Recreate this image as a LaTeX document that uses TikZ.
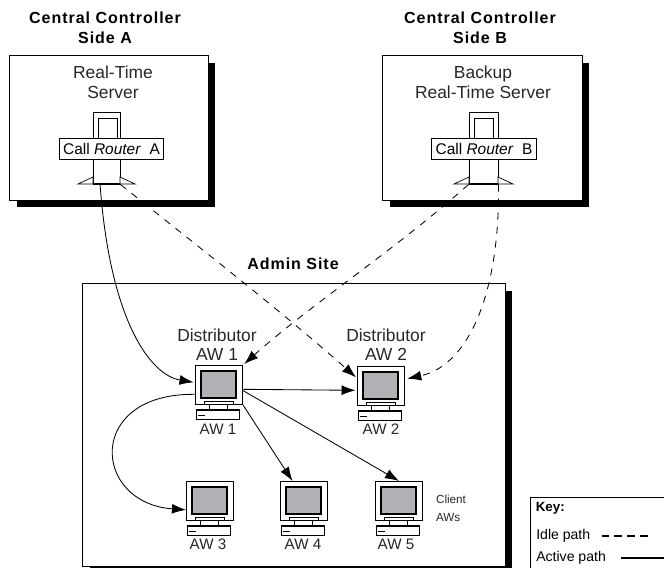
\documentclass[tikz,border=0pt]{standalone}
\usepackage{fontspec}
\setmainfont{Liberation Sans}
\newfontfamily\titlefont[LetterSpace=6]{Liberation Sans}
\usetikzlibrary{shadows, arrows.meta}
\definecolor{ScreenGray}{RGB}{178,178,182}
\definecolor{TextGray}{RGB}{40,40,40}
\tikzset{
    >={Latex[length=10pt,width=7pt]},
    shadowbox/.style={draw,fill=white,inner sep=0pt,line width=0.7pt,drop shadow={shadow xshift=5pt,shadow yshift=-5pt,opacity=1,fill=black}},
    tower/.style={draw,fill=white,inner sep=0pt,line width=0.7pt,minimum height=1.8cm},
    routerlabel/.style={draw,fill=white,inner sep=0pt,line width=0.7pt,minimum width=2.62cm,minimum height=0.525cm,font=\fontsize{11}{13}\selectfont},
    sitetitle/.style={align=center,font=\titlefont\bfseries\fontsize{11.4}{14.2}\selectfont},
    servername/.style={align=center,text=TextGray,font=\fontsize{12.4}{14.2}\selectfont},
    distname/.style={align=center,text=TextGray,font=\fontsize{12.4}{13.5}\selectfont},
    awname/.style={text=TextGray,font=\fontsize{10.8}{13}\selectfont},
    keytext/.style={anchor=west,inner sep=0pt,font=\fontsize{10}{12}\selectfont},
    idle/.style={dashed,dash pattern=on 5pt off 5pt,line width=0.6pt},
    active/.style={line width=0.6pt},
    monitor/.style={draw,fill=white,anchor=north west,inner sep=0pt,line width=0.8pt,minimum width=1.175cm,minimum height=0.975cm}
}
\begin{document}
\begin{tikzpicture}[x=0.025cm,y=-0.025cm]
        \useasboundingbox (0,0) rectangle (664,567);

        \node[shadowbox,minimum width=4.95cm,minimum height=3.6cm] (servera) at (109,128) {};
        \node[shadowbox,minimum width=4.975cm,minimum height=3.6cm] (serverb) at (482.5,128) {};
        \node[shadowbox,minimum width=10.55cm,minimum height=7.05cm] (adminbox) at (294,425) {};

        \node[sitetitle] (titlea) at (105,28) {Central Controller\\Side A};
        \node[sitetitle] (titleb) at (480,28) {Central Controller\\Side B};
        \node[sitetitle] (titleadmin) at (293,264) {Admin Site};
        \node[servername] (namea) at (113,82) {Real-Time\\Server};
        \node[servername] (nameb) at (483,82) {Backup\\Real-Time Server};

        \foreach \s/\left/\right/\inleft/\inright/\lab/\labx in {a/93/120/98/117/A/111.5,b/469/498/474/493/B/484}
        {
            \node[tower,minimum width=(\right-\left)*0.025cm] (tower\s) at ({(\left+\right)/2},148) {};
            \draw[line width=0.7pt] (\inleft,138) -- (\inleft,118) -- (\inright,118) -- (\inright,138);
            \draw[fill=white,line width=0.5pt] (\left,177) -- (\left-15,184) -- (\left,184) -- cycle;
            \draw[fill=white,line width=0.5pt] (\right,177) -- (\right+15,184) -- (\right,184) -- cycle;
            \draw[line width=1.4pt] (\left,184) -- (\right,184);
            \node[routerlabel] (router\s) at (\labx,148.5) {Call \textit{Router}\ \ \lab};
        }

        \foreach \pcname/\pcx/\pcy in {awone/195/365,awtwo/357/366,awthree/186/481,awfour/280/481,awfive/375/481}
        {
            \begin{scope}[shift={(\pcx,\pcy)}]
                \node[monitor] (\pcname) at (0,0) {};
                \draw[fill=ScreenGray,line width=0.9pt] (6,6) rectangle (41,33);
                \draw[fill=white,line width=0.6pt] (9,36) rectangle (38,39);
                \draw[fill=white,line width=0.6pt] (14,39) rectangle (32,44);
                \draw[fill=white,line width=0.6pt] (1,44.5) rectangle (44,54);
                \draw[line width=1.1pt] (1,45) -- (44,45);
                \draw[line width=1.1pt] (3,50.5) -- (10,50.5);
            \end{scope}
        }

        \node[distname] (distone) at (217,344.5) {Distributor\\AW 1};
        \node[distname] (disttwo) at (386,344.5) {Distributor\\AW 2};
        \node[awname] (labone) at (218,429) {AW 1};
        \node[awname] (labtwo) at (381,429) {AW 2};
        \node[awname] (labthree) at (208,544) {AW 3};
        \node[awname] (labfour) at (303,544) {AW 4};
        \node[awname] (labfive) at (396,544) {AW 5};
        \node[align=left,text=TextGray,font=\fontsize{8.3}{12.8}\selectfont] (clientaws) at (451,508) {Client\\AWs};

        \draw[->,active,shorten >=1pt] (towera.260) .. controls (110,320) and (150,375) .. (awone.174);
        \draw[->,idle,shorten >=1pt] (towera.south east) .. controls (190,240) and (280,310) .. (awtwo.162);
        \draw[->,idle,shorten >=1pt] (towerb.south west) .. controls (395,250) and (310,305) .. (awone.north east);
        \draw[->,idle,shorten >=1.5pt] (towerb.south east) .. controls (500,290) and (470,365) .. (awtwo.16);
        \draw[->,active,shorten >=1pt] (awone.-10) -- (awtwo.190);
        \draw[->,active] (awone.south east) -- (awfour.120.5);
        \draw[->,active] (awone.-13) -- (awfive.north);
        \draw[->,active] (awone.201) .. controls (85,393) and (92,503) .. (awthree.200);

        \draw[line width=0.7pt,fill=white] (530,575) rectangle (672,497);
        \node[keytext,font=\bfseries\fontsize{9.5}{12}\selectfont] (keytitle) at (535.5,508) {Key:};
        \node[keytext] (idletext) at (536,536) {Idle path};
        \node[keytext] (activetext) at (536,558) {Active path};
        \coordinate (idleend) at (648,536);
        \coordinate (activeend) at (664,558);
        \draw[idle,dash pattern=on 5.5pt off 3.7pt,line width=0.8pt] (idletext.east) ++(11,0) -- (idleend);
        \draw[active,line width=0.8pt] (activetext.east) ++(15,0) -- (activeend);
    \end{tikzpicture}
\end{document}
